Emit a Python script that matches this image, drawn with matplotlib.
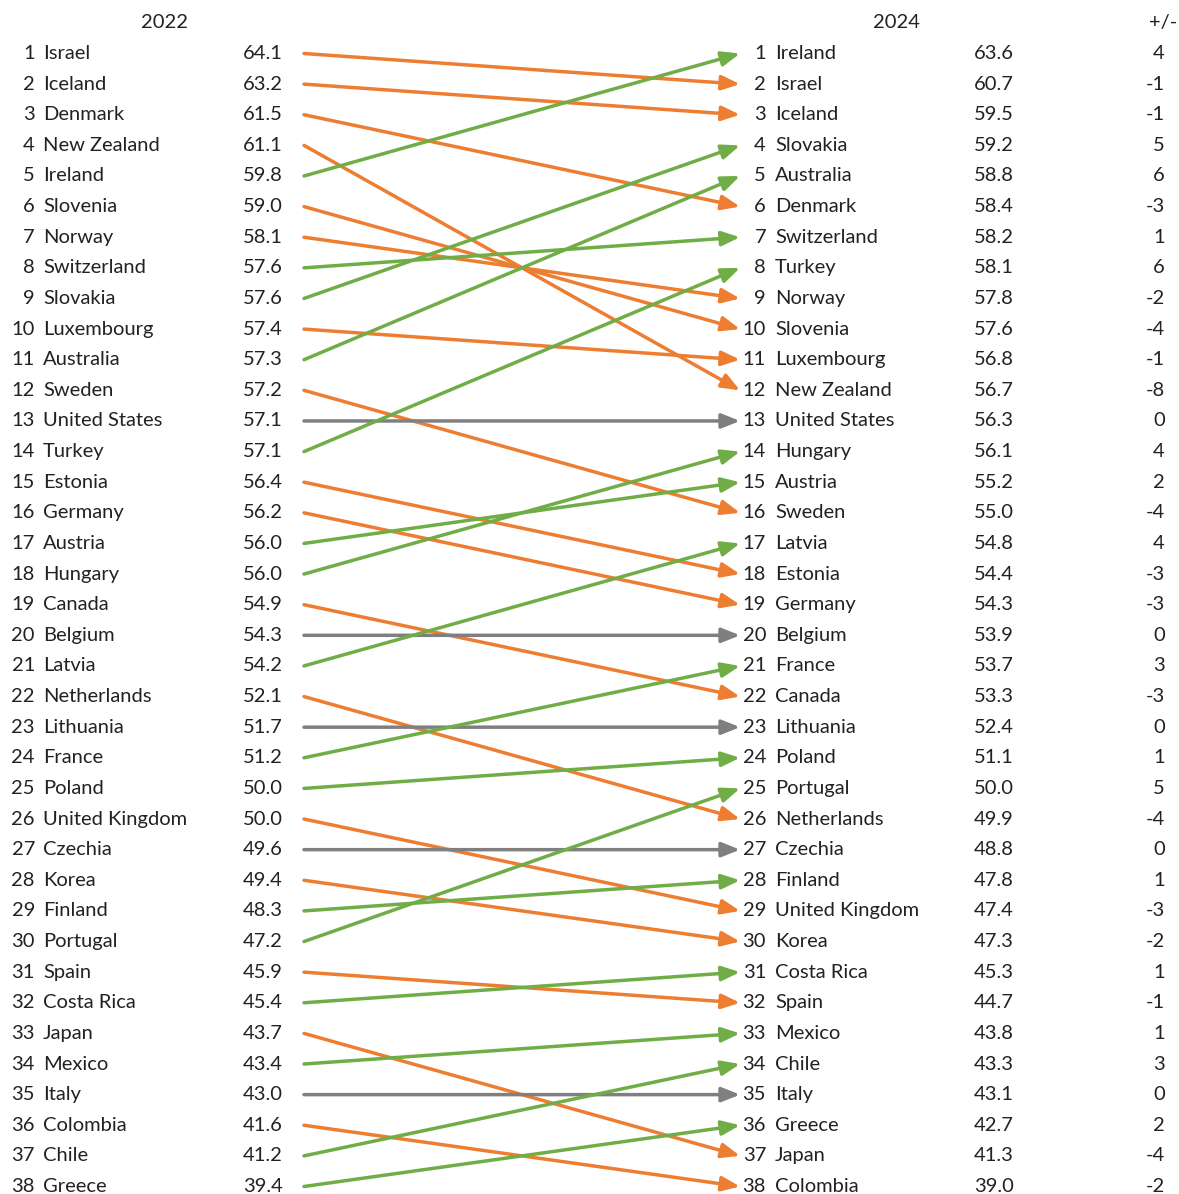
import matplotlib
matplotlib.use("Agg")
import matplotlib.pyplot as plt

countries_2022 = ["Israel", "Iceland", "Denmark", "New Zealand", "Ireland", "Slovenia", "Norway",
                  "Switzerland", "Slovakia", "Luxembourg", "Australia", "Sweden", "United States",
                  "Turkey", "Estonia", "Germany", "Austria", "Hungary", "Canada", "Belgium", "Latvia",
                  "Netherlands", "Lithuania", "France", "Poland", "United Kingdom", "Czechia", "Korea",
                  "Finland", "Portugal", "Spain", "Costa Rica", "Japan", "Mexico", "Italy", "Colombia",
                  "Chile", "Greece"]
values_2022 = ["64.1", "63.2", "61.5", "61.1", "59.8", "59.0", "58.1", "57.6", "57.6", "57.4", "57.3",
               "57.2", "57.1", "57.1", "56.4", "56.2", "56.0", "56.0", "54.9", "54.3", "54.2", "52.1",
               "51.7", "51.2", "50.0", "50.0", "49.6", "49.4", "48.3", "47.2", "45.9", "45.4", "43.7",
               "43.4", "43.0", "41.6", "41.2", "39.4"]
countries_2024 = ["Ireland", "Israel", "Iceland", "Slovakia", "Australia", "Denmark", "Switzerland",
                  "Turkey", "Norway", "Slovenia", "Luxembourg", "New Zealand", "United States", "Hungary",
                  "Austria", "Sweden", "Latvia", "Estonia", "Germany", "Belgium", "France", "Canada",
                  "Lithuania", "Poland", "Portugal", "Netherlands", "Czechia", "Finland", "United Kingdom",
                  "Korea", "Costa Rica", "Spain", "Mexico", "Chile", "Italy", "Greece", "Japan", "Colombia"]
values_2024 = ["63.6", "60.7", "59.5", "59.2", "58.8", "58.4", "58.2", "58.1", "57.8", "57.6", "56.8",
               "56.7", "56.3", "56.1", "55.2", "55.0", "54.8", "54.4", "54.3", "53.9", "53.7", "53.3",
               "52.4", "51.1", "50.0", "49.9", "48.8", "47.8", "47.4", "47.3", "45.3", "44.7", "43.8",
               "43.3", "43.1", "42.7", "41.3", "39.0"]
changes = [4, -1, -1, 5, 6, -3, 1, 6, -2, -4, -1, -8, 0, 4, 2, -4, 4, -3, -3, 0, 3, -3, 0, 1, 5, -4,
           0, 1, -3, -2, 1, -1, 1, 3, 0, 2, -4, -2]
headers = ["2022", "2024", "+/-"]

GREEN = "#70AD47"
ORANGE = "#ED7D31"
GRAY = "#7F7F7F"
TXT = "#222222"

W, H = 1179, 1194
fig = plt.figure(figsize=(W / 100, H / 100), dpi=100)
ax = fig.add_axes([0, 0, 1, 1])
ax.set_xlim(0, W)
row0, step = 53.5, (1185 - 52) / 37
ax.set_ylim(38 + (H - (row0 + 37 * step)) / step, 1 - row0 / step)
ax.axis("off")

font = dict(family=["Lato", "DejaVu Sans"], fontsize=14.5, color=TXT, va="center")

ax.text(165, 0, headers[0], ha="center", **font)
ax.text(897, 0, headers[1], ha="center", **font)
ax.text(1163, 0, headers[2], ha="center", **font)

for i, (c, v) in enumerate(zip(countries_2022, values_2022)):
    r = i + 1
    ax.text(35, r, str(r), ha="right", **font)
    ax.text(43, r, c, ha="left", **font)
    ax.text(283, r, v, ha="right", **font)

for i, (c, v, d) in enumerate(zip(countries_2024, values_2024, changes)):
    r = i + 1
    ax.text(766, r, str(r), ha="right", **font)
    ax.text(775, r, c, ha="left", **font)
    ax.text(1014, r, v, ha="right", **font)
    ax.text(1165, r, str(d), ha="right", **font)

for i, c in enumerate(countries_2022):
    r1 = i + 1
    r2 = countries_2024.index(c) + 1
    d = r1 - r2
    col = GREEN if d > 0 else (ORANGE if d < 0 else GRAY)
    ax.annotate("", xy=(740, r2), xytext=(304, r1),
                arrowprops=dict(arrowstyle="-|>,head_length=0.55,head_width=0.22", color=col,
                                lw=2.5, shrinkA=0, shrinkB=0, mutation_scale=20))

fig.savefig("out.png", dpi=100, facecolor="white")
